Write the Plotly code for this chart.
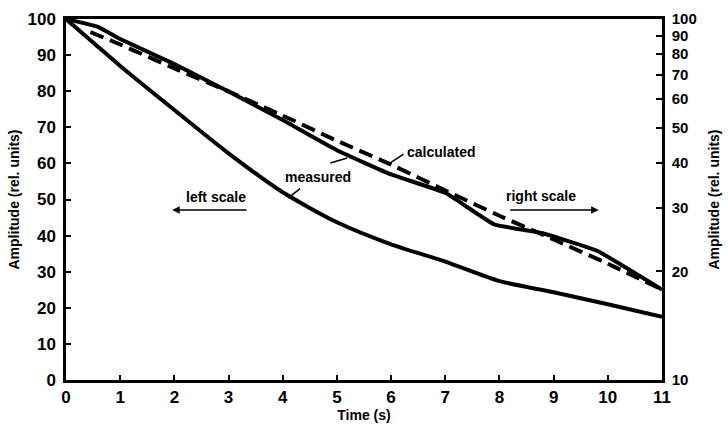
import plotly.graph_objects as go

# ---- data ----
t_lower = [0, 0.5, 1, 2, 3, 4, 5, 6, 7, 8, 9, 10, 11]
measured_left = [100, 93.5, 87, 74.8, 62.8, 52, 43.7, 37.6, 32.8, 27.4, 24.3, 21, 17.5]

t_upper = [0, 0.6, 1, 2, 3, 4, 5, 6, 7, 7.9, 8.8, 9.8, 11]
measured_right = [100, 95, 88, 75, 63, 52.5, 43.3, 37.1, 33, 27, 25.5, 22.8, 17.8]

t_calc = [0.45, 1, 2, 3, 4, 5, 6, 7, 8, 9, 10, 11]
calculated_right = [92, 85, 73, 63, 54, 46, 39.5, 33.5, 28.5, 24.5, 21, 17.8]

x_ticks = list(range(0, 12))
left_ticks = list(range(0, 101, 10))
right_ticks = [10, 20, 30, 40, 50, 60, 70, 80, 90, 100]

FONT = "Liberation Sans, Arial, sans-serif"

fig = go.Figure()
fig.add_trace(go.Scatter(x=t_lower, y=measured_left, mode="lines",
                         line=dict(color="black", width=4, shape="spline", smoothing=0.7),
                         yaxis="y", showlegend=False))
fig.add_trace(go.Scatter(x=t_upper, y=measured_right, mode="lines",
                         line=dict(color="black", width=4, shape="spline", smoothing=0.3),
                         yaxis="y2", showlegend=False))
fig.add_trace(go.Scatter(x=t_calc, y=calculated_right, mode="lines",
                         line=dict(color="black", width=4, dash="14px,7px", shape="spline", smoothing=0.3),
                         yaxis="y2", showlegend=False))

tickfont = dict(family=FONT, size=17, color="black", weight="bold")
rtickfont = dict(family=FONT, size=15, color="black", weight="bold")
titlefont = dict(family=FONT, size=14, color="black", weight="bold")

fig.update_layout(
    width=728, height=429,
    margin=dict(l=66, r=66, t=19, b=49, autoexpand=False),
    paper_bgcolor="white", plot_bgcolor="white",
    font=dict(family=FONT, color="black"),
    xaxis=dict(range=[0, 11], tickvals=x_ticks, ticktext=[str(v) for v in x_ticks],
               ticks="inside", ticklen=5, tickwidth=1.5,
               tickcolor="black", showgrid=False, zeroline=False, showline=True,
               linecolor="black", linewidth=2.5, mirror=True, tickfont=tickfont,
               automargin=False,
               title=dict(text="Time (s)", font=titlefont, standoff=1)),
    yaxis=dict(range=[0, 100], tickvals=left_ticks, ticktext=[str(v) for v in left_ticks],
               ticks="inside", ticklen=5, tickwidth=1.5,
               tickcolor="black", showgrid=False, zeroline=False, showline=True,
               linecolor="black", linewidth=2.5, tickfont=tickfont, automargin=False,
               ticklabelstandoff=4,
               title=dict(text="Amplitude (rel. units)", font=titlefont, standoff=5)),
    yaxis2=dict(type="log", range=[1, 2], tickvals=right_ticks,
                ticktext=[str(v) for v in right_ticks], overlaying="y", side="right",
                ticks="inside", ticklen=6, tickwidth=1.5, tickcolor="black",
                showgrid=False, zeroline=False, showline=True, linecolor="black",
                linewidth=2.5, tickfont=rtickfont, automargin=False, ticklabelstandoff=4,
                title=dict(text="Amplitude (rel. units)", font=titlefont, standoff=14)),
)

afont = dict(family=FONT, size=14, color="black", weight="bold")
# text labels
fig.add_annotation(x=2.77, y=50.7, text="left scale", showarrow=False, font=afont)
fig.add_annotation(x=8.76, y=51.0, text="right scale", showarrow=False, font=afont)
fig.add_annotation(x=4.66, y=56.2, text="measured", showarrow=False, font=afont)
fig.add_annotation(x=6.93, y=63.2, text="calculated", showarrow=False, font=afont)

# scale arrows
fig.add_annotation(x=1.96, y=47.1, ax=3.36, ay=47.1, axref="x", ayref="y", xref="x", yref="y",
                   text="", showarrow=True, arrowhead=2, arrowsize=1, arrowwidth=1.5, arrowcolor="black")
fig.add_annotation(x=9.83, y=47.1, ax=8.17, ay=47.1, axref="x", ayref="y", xref="x", yref="y",
                   text="", showarrow=True, arrowhead=2, arrowsize=1, arrowwidth=1.5, arrowcolor="black")

# leader lines
leaders = [
    (4.88, 60.1, 5.19, 61.5),   # measured -> upper curve
    (4.32, 53.0, 4.10, 50.4),   # measured -> lower curve
    (6.23, 62.6, 5.95, 59.8),   # calculated -> dashed curve
]
for x0, y0, x1, y1 in leaders:
    fig.add_shape(type="line", x0=x0, y0=y0, x1=x1, y1=y1, xref="x", yref="y",
                  line=dict(color="black", width=1.5))

fig.write_html("out.html")
